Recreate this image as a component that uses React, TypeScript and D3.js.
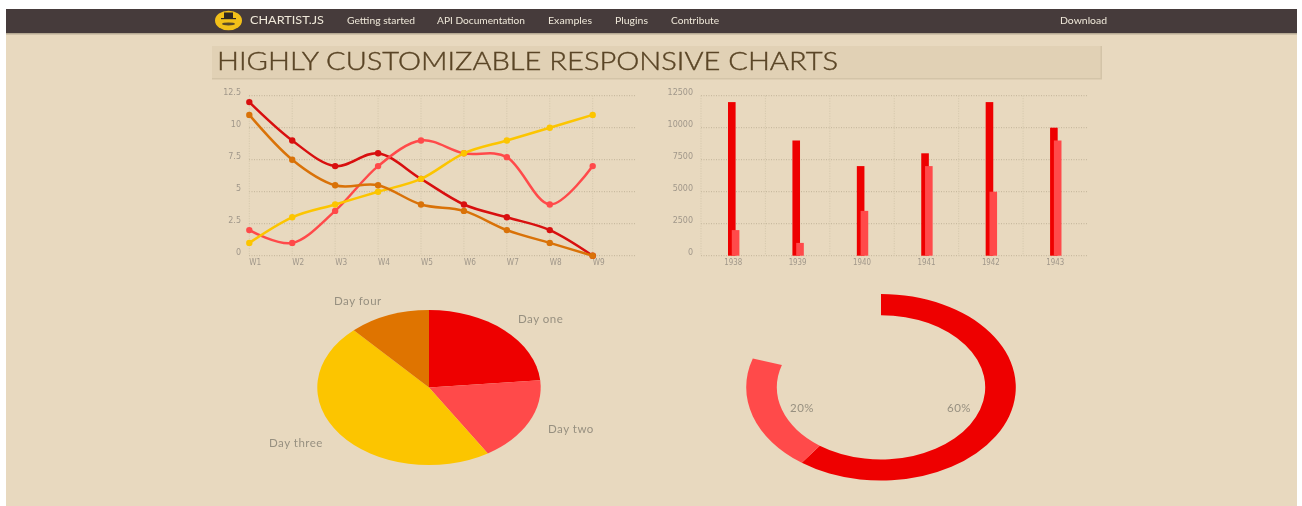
import * as d3 from 'd3';
import { useEffect, useRef } from 'react';

const weeks = ['W1', 'W2', 'W3', 'W4', 'W5', 'W6', 'W7', 'W8', 'W9'];
const lineTicks = [0, 2.5, 5, 7.5, 10, 12.5];
const redLine = [12, 9, 7, 8, 6, 4, 3, 2, 0];
const coralLine = [2, 1, 3.5, 7, 9, 8, 7.7, 4, 7];
const yellowLine = [1, 3, 4, 5, 6, 8, 9, 10, 11];
const orangeLine = [11, 7.5, 5.5, 5.5, 4, 3.5, 2, 1, 0];

const years = ['1938', '1939', '1940', '1941', '1942', '1943'];
const barTicks = [0, 2500, 5000, 7500, 10000, 12500];
const barsA = [12000, 9000, 7000, 8000, 12000, 10000];
const barsB = [2000, 1000, 3500, 7000, 5000, 9000];

const days = ['Day one', 'Day two', 'Day three', 'Day four'];
const dayValues = [20, 15, 40, 10];

const gaugeLabels = ['60%', '20%'];
const gaugeValues = [60, 20];
const gaugeTotal = 100;

const navItems = [
  { label: 'Getting started', x: 347, w: 68 },
  { label: 'API Documentation', x: 437, w: 88 },
  { label: 'Examples', x: 548, w: 44 },
  { label: 'Plugins', x: 615, w: 33 },
  { label: 'Contribute', x: 671, w: 48 },
  { label: 'Download', x: 1060, w: 47 },
];

const RED = '#ee0000';
const CORAL = '#ff4a4a';
const YELLOW = '#fcc500';
const ORANGE = '#d97208';
const DARKRED = '#d80f0f';
const LABEL = '#a0978a';
const GRID = '#c0b398';
const GRID_V = '#d3c6ab';
const FONT = 'Lato, "Open Sans", sans-serif';
const TICK_FONT = '"DejaVu Sans", sans-serif';

const App = () => {
  const ref = useRef<SVGSVGElement>(null);

  useEffect(() => {
    const root = d3.select(ref.current);
    root.selectAll('*').remove();
    // the reference is a soft, upscaled screenshot
    const svg = root.append('g').style('filter', 'blur(0.45px)');

    // page
    root.insert('rect', 'g').attr('x', 6).attr('y', 9).attr('width', 1291).attr('height', 497).attr('fill', '#e8d9bf');
    svg.append('rect').attr('x', 6).attr('y', 9).attr('width', 1291).attr('height', 24).attr('fill', '#463b3b');
    svg.append('rect').attr('x', 6).attr('y', 33).attr('width', 1291).attr('height', 1.5).attr('fill', '#b5a993');

    // logo
    const logo = svg.append('g').attr('transform', 'translate(228.5,20.5)');
    logo.append('ellipse').attr('rx', 13.5).attr('ry', 9.8).attr('fill', '#f2c019');
    logo.append('rect').attr('x', -4.5).attr('y', -8).attr('width', 9).attr('height', 6).attr('fill', '#2e2723');
    logo.append('rect').attr('x', -7.5).attr('y', -2.5).attr('width', 15).attr('height', 1.2).attr('fill', '#2e2723');
    logo.append('ellipse').attr('cx', 0).attr('cy', 3.4).attr('rx', 6.5).attr('ry', 1.5).attr('fill', '#5a4a28');

    const navText = (label: string, x: number, w: number, size: number) =>
      svg.append('text')
        .attr('x', x).attr('y', 24)
        .attr('textLength', w).attr('lengthAdjust', 'spacingAndGlyphs')
        .attr('font-family', FONT).attr('font-size', size)
        .attr('fill', '#efe8d9')
        .text(label);
    navText('CHARTIST.JS', 250, 74, 11);
    navItems.forEach((d) => navText(d.label, d.x, d.w, 9));

    // heading
    svg.append('rect').attr('x', 212).attr('y', 46).attr('width', 889).attr('height', 32).attr('fill', '#e1d1b5');
    svg.append('rect').attr('x', 212).attr('y', 78).attr('width', 890).attr('height', 1.5).attr('fill', '#d3c4a8');
    svg.append('rect').attr('x', 1100.5).attr('y', 46).attr('width', 1.5).attr('height', 32).attr('fill', '#d3c4a8');
    svg.append('text')
      .attr('x', 217).attr('y', 70)
      .attr('textLength', 621).attr('lengthAdjust', 'spacingAndGlyphs')
      .attr('font-family', FONT).attr('font-size', 24.5).attr('font-weight', 300)
      .attr('fill', '#5a4526').attr('stroke', '#5a4526').attr('stroke-width', 0.4)
      .text('HIGHLY CUSTOMIZABLE RESPONSIVE CHARTS');

    const gridH = (s: any) =>
      s.attr('stroke', GRID).attr('stroke-width', 1).attr('stroke-dasharray', '1 1.5');
    const gridV = (s: any) =>
      s.attr('stroke', GRID_V).attr('stroke-width', 1).attr('stroke-dasharray', '1 1.5');
    const tickStyle = (s: any, size: number) =>
      s.attr('font-family', TICK_FONT).attr('font-size', size).attr('fill', LABEL);

    // line chart
    const lineX = d3.scalePoint<string>().domain(weeks).range([249.3, 592.7]);
    const lineY = d3.scaleLinear().domain([0, 12.5]).range([255.7, 95.7]);
    const lineG = svg.append('g');
    lineTicks.forEach((t) => {
      gridH(lineG.append('line').attr('x1', 249).attr('x2', 635).attr('y1', lineY(t)).attr('y2', lineY(t)));
      tickStyle(lineG.append('text').attr('x', 241).attr('y', lineY(t) - 1).attr('text-anchor', 'end').text(String(t)), 8);
    });
    weeks.forEach((w) => {
      gridV(lineG.append('line').attr('x1', lineX(w)!).attr('x2', lineX(w)!).attr('y1', 95.7).attr('y2', 255.7));
      tickStyle(
        lineG.append('text').attr('x', lineX(w)!).attr('y', 264.5)
          .attr('textLength', 12).attr('lengthAdjust', 'spacingAndGlyphs').text(w),
        8.5
      );
    });

    const path = d3.line<number>()
      .x((_, i) => lineX(weeks[i])!)
      .y((d) => lineY(d))
      .curve(d3.curveCatmullRom.alpha(0.2));
    const lineSeries: [number[], string][] = [
      [redLine, DARKRED],
      [coralLine, CORAL],
      [yellowLine, YELLOW],
      [orangeLine, ORANGE],
    ];
    lineSeries.forEach(([values, color]) => {
      lineG.append('path').attr('d', path(values)).attr('fill', 'none').attr('stroke', color).attr('stroke-width', 2.5);
      lineG.append('g').selectAll('circle').data(values).enter().append('circle')
        .attr('cx', (_, i) => lineX(weeks[i])!)
        .attr('cy', (d) => lineY(d))
        .attr('r', 3.2)
        .attr('fill', color);
    });

    // bar chart
    const barX = d3.scaleBand<string>().domain(years).range([701, 1087.5]);
    const barY = d3.scaleLinear().domain([0, 12500]).range([255.7, 95.7]);
    const barG = svg.append('g');
    barTicks.forEach((t) => {
      gridH(barG.append('line').attr('x1', 701).attr('x2', 1087.5).attr('y1', barY(t)).attr('y2', barY(t)));
      tickStyle(barG.append('text').attr('x', 693).attr('y', barY(t) - 1).attr('text-anchor', 'end').text(String(t)), 8);
    });
    years.forEach((y) => {
      gridV(barG.append('line').attr('x1', barX(y)!).attr('x2', barX(y)!).attr('y1', 95.7).attr('y2', 255.7));
      tickStyle(
        barG.append('text').attr('x', barX(y)! + barX.bandwidth() / 2 - 9).attr('y', 264.5)
          .attr('textLength', 18).attr('lengthAdjust', 'spacingAndGlyphs').text(y),
        8.2
      );
    });
    const barSeries: [number[], string, number][] = [
      [barsA, RED, 27],
      [barsB, CORAL, 30.8],
    ];
    barSeries.forEach(([values, color, offset]) => {
      barG.append('g').selectAll('rect').data(values).enter().append('rect')
        .attr('x', (_, i) => barX(years[i])! + offset)
        .attr('y', (d) => barY(d))
        .attr('width', 7.6)
        .attr('height', (d) => barY(0) - barY(d))
        .attr('fill', color);
    });

    // pie, a circle squashed to the picture's ellipse
    const pieColors = [RED, CORAL, YELLOW, '#df7400'];
    const pieLayout = d3.pie<number>().sort(null);
    const pieArc = d3.arc<d3.PieArcDatum<number>>().innerRadius(0).outerRadius(100);
    const pieG = svg.append('g').attr('transform', 'translate(429,387.5) scale(1.117,0.775)');
    pieG.selectAll('path').data(pieLayout(dayValues)).enter().append('path')
      .attr('d', pieArc)
      .attr('fill', (_, i) => pieColors[i]);
    const pieLabelPos = [[518, 323], [548, 433], [269, 447], [334, 305]];
    days.forEach((d, i) => {
      svg.append('text')
        .attr('x', pieLabelPos[i][0]).attr('y', pieLabelPos[i][1])
        .attr('font-family', FONT).attr('font-size', 11.5).attr('letter-spacing', 0.5)
        .attr('fill', '#979080')
        .text(d);
    });

    // gauge
    const gaugeColors = [RED, CORAL];
    const gaugeLayout = d3.pie<number>().sort(null).endAngle((2 * Math.PI * d3.sum(gaugeValues)) / gaugeTotal);
    const gaugeArc = d3.arc<d3.PieArcDatum<number>>().innerRadius(77.3).outerRadius(100);
    const gaugeG = svg.append('g').attr('transform', 'translate(881,387.3) scale(1.348,0.933)');
    gaugeG.selectAll('path').data(gaugeLayout(gaugeValues)).enter().append('path')
      .attr('d', gaugeArc)
      .attr('fill', (_, i) => gaugeColors[i]);
    const gaugeLabelPos = [[947, 412], [790, 412]];
    gaugeLabels.forEach((d, i) => {
      svg.append('text')
        .attr('x', gaugeLabelPos[i][0]).attr('y', gaugeLabelPos[i][1])
        .attr('font-family', FONT).attr('font-size', 11.5).attr('letter-spacing', 0.5)
        .attr('fill', '#979080')
        .text(d);
    });
  }, []);

  return <svg ref={ref} width={1302} height={506} style={{ position: 'absolute', left: 0, top: 0, background: '#fff' }} />;
};

export default App;
